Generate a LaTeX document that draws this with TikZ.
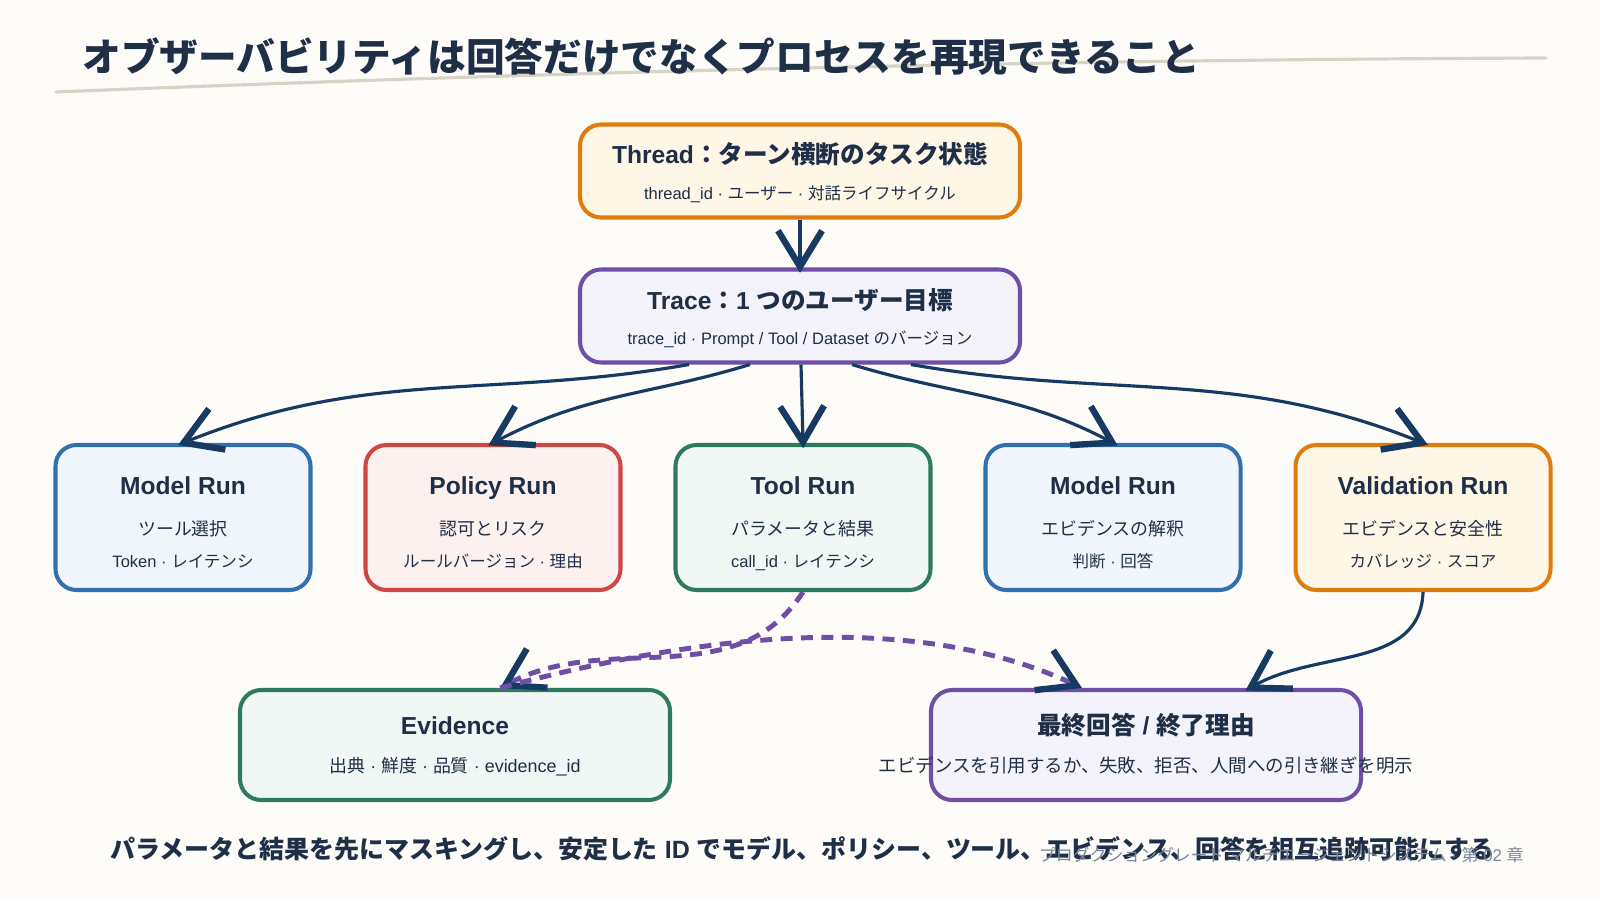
\documentclass[tikz,border=0pt]{standalone}
\usepackage{fontspec}
\setmainfont{Liberation Sans}
\newfontfamily\jp{Noto Sans CJK JP}
\usetikzlibrary{positioning,arrows.meta}
\definecolor{bgc}{HTML}{FDFCF8}
\definecolor{ink}{HTML}{1F2F47}
\definecolor{arrowc}{HTML}{173A63}
\definecolor{rulec}{HTML}{D8D3C7}
\definecolor{footc}{HTML}{7C879A}
\definecolor{blueln}{HTML}{3270AD}
\definecolor{bluefl}{HTML}{F1F5FC}
\definecolor{redln}{HTML}{CF4646}
\definecolor{redfl}{HTML}{FDF1F0}
\definecolor{greenln}{HTML}{2E7A5E}
\definecolor{greenfl}{HTML}{F0F7F4}
\definecolor{orangeln}{HTML}{E07B0D}
\definecolor{orangefl}{HTML}{FEF6E7}
\definecolor{purpleln}{HTML}{6E4FA5}
\definecolor{purplefl}{HTML}{F4F2FB}

\begin{document}
\begin{tikzpicture}[
  box/.style={rounded corners=6pt, line width=1.15pt, inner sep=0pt},
  runbox/.style={box, minimum width=2.55cm, minimum height=1.45cm},
  widebox/.style={box, minimum width=4.4cm, minimum height=0.93cm},
  lowbox/.style={box, minimum width=4.3cm, minimum height=1.1cm},
  txt/.style={text=ink, text height=0.8em, text depth=0.2em, yshift=0.3mm},
  ttl/.style={txt, font=\bfseries\fontsize{7}{8}\selectfont},
  midtxt/.style={txt, font=\fontsize{5.1}{6}\selectfont},
  subtxt/.style={txt, font=\fontsize{4.7}{5.5}\selectfont},
  flow/.style={draw=arrowc, line width=0.9pt, shorten >=-1.5pt,
    -{Straight Barb[length=3.6mm, width=4.4mm, line width=1.8pt]}},
  link/.style={draw=purpleln, line width=1.4pt, dash pattern=on 3.4pt off 2.4pt,
    -{Straight Barb[length=3.6mm, width=4.4mm, line width=1.8pt, color=arrowc]}},
]

% page
\fill[bgc] (0,0) rectangle (16,9);
\useasboundingbox (0,0) rectangle (16,9);

% ---------- heading ----------
\draw[rulec, line width=0.9pt, line cap=round]
  (0.56,8.08) .. controls (5,8.26) and (10,8.40) .. (15.46,8.42);
\node[anchor=west, text=ink, font=\jp\bfseries\fontsize{11}{13}\selectfont] (title)
  at (0.70,8.43) {オブザーバビリティは回答だけでなくプロセスを再現できること};

% ---------- thread / trace ----------
\node[widebox, draw=orangeln, fill=orangefl] (thread) at (8,7.29) {};
\node[ttl] (thread-t) at ([yshift=0.15cm]thread.center) {Thread{\jp ：ターン横断のタスク状態}};
\node[subtxt] (thread-s) at ([yshift=-0.21cm]thread.center) {thread\_id · {\jp ユーザー} · {\jp 対話ライフサイクル}};

\node[widebox, draw=purpleln, fill=purplefl] (trace) at (8,5.84) {};
\node[ttl] (trace-t) at ([yshift=0.14cm]trace.center) {Trace{\jp ：}1 {\jp つのユーザー目標}};
\node[subtxt] (trace-s) at ([yshift=-0.21cm]trace.center) {trace\_id · Prompt / Tool / Dataset {\jp のバージョン}};

% ---------- runs ----------
\def\yr{3.825}
\foreach \nm/\x/\bc/\fc/\hdr/\lnA/\lnB in {
  mr1/1.83/blueln/bluefl/Model Run/{\jp ツール選択}/Token · {\jp レイテンシ},
  pr/4.93/redln/redfl/Policy Run/{\jp 認可とリスク}/{\jp ルールバージョン} · {\jp 理由},
  tr/8.03/greenln/greenfl/Tool Run/{\jp パラメータと結果}/call\_id · {\jp レイテンシ},
  mr2/11.13/blueln/bluefl/Model Run/{\jp エビデンスの解釈}/{\jp 判断} · {\jp 回答},
  vr/14.23/orangeln/orangefl/Validation Run/{\jp エビデンスと安全性}/{\jp カバレッジ} · {\jp スコア}
}{
  \node[runbox, draw=\bc, fill=\fc] (\nm) at (\x,\yr) {};
  \node[ttl] (\nm-t) at ([yshift=0.305cm]\nm.center) {\hdr};
  \node[midtxt] (\nm-m) at ([yshift=-0.105cm]\nm.center) {\lnA};
  \node[subtxt] (\nm-s) at ([yshift=-0.425cm]\nm.center) {\lnB};
}

% ---------- results ----------
\node[lowbox, draw=greenln, fill=greenfl] (ev) at (4.55,1.55) {};
\node[ttl] (ev-t) at ([yshift=0.185cm]ev.center) {Evidence};
\node[midtxt] (ev-s) at ([yshift=-0.2cm]ev.center) {{\jp 出典} · {\jp 鮮度} · {\jp 品質} · evidence\_id};

\node[lowbox, draw=purpleln, fill=purplefl] (final) at (11.46,1.55) {};
\node[ttl] (final-t) at ([yshift=0.185cm]final.center) {{\jp 最終回答} / {\jp 終了理由}};
\node[midtxt, font=\fontsize{5.25}{6}\selectfont] (final-s) at ([yshift=-0.2cm]final.center)
  {\jp エビデンスを引用するか、失敗、拒否、人間への引き継ぎを明示};

% ---------- connectors ----------
\draw[flow] (thread.south) -- (trace.north);
\draw[flow] ([xshift=-1.11cm]trace.south) to[out=190, in=22] (mr1.north);
\draw[flow] ([xshift=-0.5cm]trace.south) to[out=197, in=28] (pr.north);
\draw[flow] ([xshift=0.01cm]trace.south) -- (tr.north);
\draw[flow] ([xshift=0.52cm]trace.south) to[out=-17, in=152] (mr2.north);
\draw[flow] ([xshift=1.11cm]trace.south) to[out=-10, in=158] (vr.north);

\draw[link] (tr.south) to[out=237, in=28] ([xshift=0.45cm]ev.north);
\draw[link] ([xshift=0.45cm]ev.north) to[out=15, in=155, looseness=0.85] ([xshift=-0.64cm]final.north);
\draw[flow] (vr.south) to[out=268, in=30] ([xshift=1.04cm]final.north);

% ---------- footer ----------
\node[anchor=west, text=ink, font=\bfseries\fontsize{7.1}{8.5}\selectfont] (note) at (0.98,0.51)
  {{\jp パラメータと結果を先にマスキングし、安定した} ID {\jp でモデル、ポリシー、ツール、エビデンス、回答を相互追跡可能にする}};
\node[anchor=east, text=footc, font=\fontsize{4.8}{6}\selectfont] (foot) at (15.36,0.45)
  {{\jp プロダクショングレード マルチエージェントシステム} · {\jp 第} 02 {\jp 章}};

\end{tikzpicture}
\end{document}
